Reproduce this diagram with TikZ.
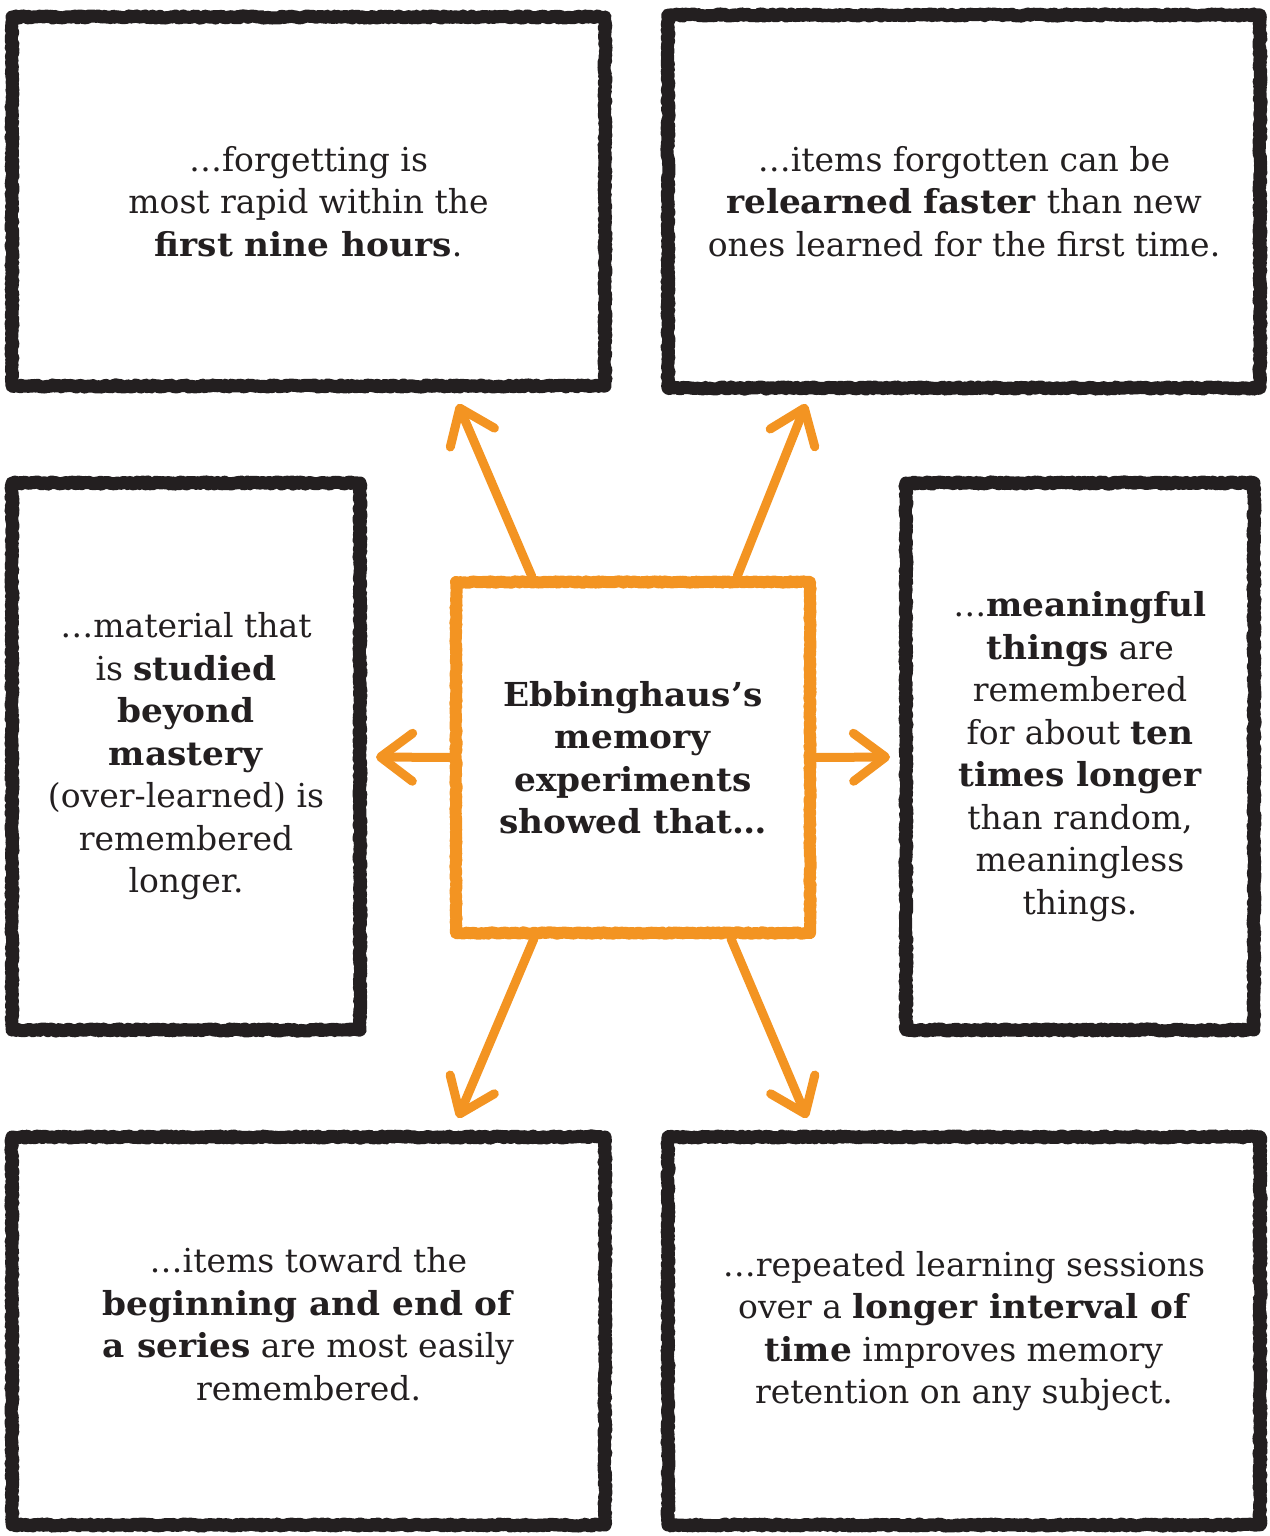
\documentclass[tikz,border=0pt]{standalone}
\usepackage{fontspec}
\setmainfont{DejaVu Serif}[BoldFeatures={FakeStretch=1.04}]
\usetikzlibrary{arrows.meta,decorations.pathmorphing,calc}
\definecolor{ink}{HTML}{231F20}
\definecolor{orng}{HTML}{F39422}
\begin{document}
\begin{tikzpicture}[x=1pt,y=-1pt,
  rough/.style={decorate,decoration={random steps,segment length=2pt,amplitude=1.1pt}},
  card/.style={draw=ink, line width=13pt, rough, line join=round, text=ink, align=center,
    font=\fontsize{33}{42.5}\selectfont, inner sep=0pt},
  hub/.style={card, draw=orng, line width=12pt, decoration={random steps,segment length=2pt,amplitude=0.7pt}},
  link/.style={draw=orng, line width=9pt, line cap=round, line join=round,
    -{Straight Barb[length=32pt,width=48pt,line cap=round,line join=round]}}]
\useasboundingbox (0,0) rectangle (1269,1536);

\node[card, minimum width=593pt, minimum height=369pt] (tl) at (308.5,201.5)
  {…forgetting is\\most rapid within the\\\textbf{first nine hours}.};
\node[card, minimum width=592pt, minimum height=373pt] (tr) at (964,201.5)
  {…items forgotten can be\\\textbf{relearned faster} than new\\ones learned for the first time.};
\node[card, minimum width=348pt, minimum height=547pt] (ml) at (186,756.5)
  {…material that\\is \textbf{studied}\\\textbf{beyond}\\\textbf{mastery}\\(over-learned) is\\remembered\\longer.};
\node[card, minimum width=348pt, minimum height=547pt] (mr) at (1080,756.5)
  {…\textbf{meaningful}\\\textbf{things} are\\remembered\\for about \textbf{ten}\\\textbf{times longer}\\than random,\\meaningless\\things.};
\node[card, minimum width=593pt, minimum height=388pt] (bl) at (308.5,1331)
  {…items toward the\\\textbf{beginning and end of}\\\textbf{a series} are most easily\\remembered.\rule[-14pt]{0pt}{0pt}};
\node[card, minimum width=592pt, minimum height=388pt] (br) at (964,1331)
  {…repeated learning sessions\\over a \textbf{longer interval of}\\\textbf{time} improves memory\\retention on any subject.};
\node[hub, minimum width=354pt, minimum height=351pt] (c) at (633,757.5)
  {\textbf{Ebbinghaus’s}\\\textbf{memory}\\\textbf{experiments}\\\textbf{showed that…}};

\coordinate (t1) at (458,404);
\coordinate (t2) at (806,404);
\coordinate (t3) at (376,757);
\coordinate (t4) at (890,757);
\coordinate (t5) at (458,1118);
\coordinate (t6) at (807,1118);

\draw[link] ($(c.north west)!0.223!(c.north east)$) -- (t1);
\draw[link] ($(c.north west)!0.785!(c.north east)$) -- (t2);
\draw[link] (c.west) -- (t3);
\draw[link] (c.east) -- (t4);
\draw[link] ($(c.south west)!0.229!(c.south east)$) -- (t5);
\draw[link] ($(c.south west)!0.768!(c.south east)$) -- (t6);
\end{tikzpicture}
\end{document}
